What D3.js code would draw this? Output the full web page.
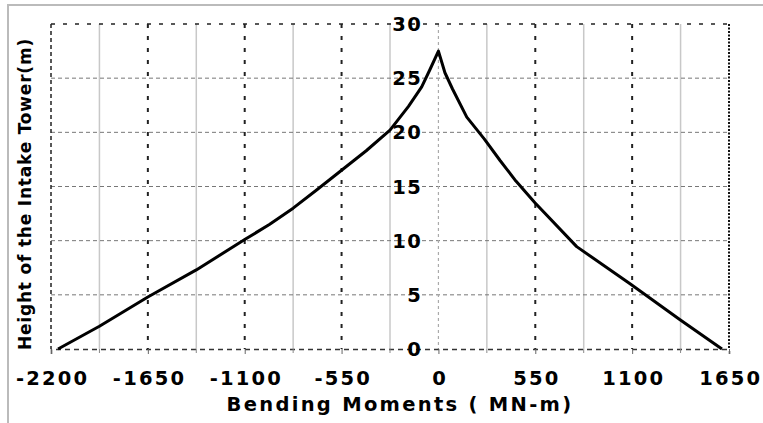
<!DOCTYPE html>
<html>
<head>
<meta charset="utf-8">
<script src="https://cdn.jsdelivr.net/npm/d3@7"></script>
<style>
  body { margin: 0; background: #fff; }
  text { font-family: "DejaVu Sans", Verdana, sans-serif; font-weight: bold; fill: #000; }
</style>
</head>
<body>
<svg width="763" height="423"></svg>
<script>
// moment (MN-m), height (m)
const leftMoments  = [-2160, -1925, -1650, -1375, -1100, -960, -825, -690, -550, -410, -275, -170, -95, -48, 0];
const leftHeights  = [0, 2.1, 4.8, 7.3, 10.1, 11.5, 13.0, 14.7, 16.5, 18.3, 20.2, 22.4, 24.2, 25.8, 27.5];
const rightMoments = [0, 37, 80, 161, 260, 350, 440, 548, 785, 1090, 1372, 1610];
const rightHeights = [27.5, 25.5, 24.0, 21.4, 19.4, 17.4, 15.5, 13.5, 9.45, 6.0, 2.7, 0];

const xTicks = [-2200, -1650, -1100, -550, 0, 550, 1100, 1650];
const xMinor = [-1925, -1375, -825, -275, 275, 825, 1375];
const yTicks = [0, 5, 10, 15, 20, 25, 30];

const margin = {top: 24, right: 34, bottom: 74, left: 51};
const svg = d3.select("svg"),
    width = +svg.attr("width") - margin.left - margin.right,
    height = +svg.attr("height") - margin.top - margin.bottom;

// outer frame (top and left only)
svg.append("path")
    .attr("d", "M8,423 V5 H763")
    .attr("fill", "none")
    .attr("stroke", "#bbb")
    .attr("stroke-width", 2);

const g = svg.append("g").attr("transform", `translate(${margin.left},${margin.top})`);

const x = d3.scaleLinear().domain([-2200, 1650]).range([0, width]);
const y = d3.scaleLinear().domain([0, 30]).range([height, 0]);

// minor vertical grid
g.selectAll(".minor").data(xMinor).enter().append("line")
    .attr("x1", d => x(d)).attr("x2", d => x(d))
    .attr("y1", 0).attr("y2", height)
    .attr("stroke", "#c8c8c8").attr("stroke-width", 1.5);

// horizontal grid
g.selectAll(".hgrid").data(yTicks.filter(d => d > 0 && d < 30)).enter().append("line")
    .attr("x1", 0).attr("x2", width)
    .attr("y1", d => y(d)).attr("y2", d => y(d))
    .attr("stroke", "#777").attr("stroke-width", 1)
    .attr("stroke-dasharray", "4,3");

// zero line
g.append("line")
    .attr("x1", x(0)).attr("x2", x(0))
    .attr("y1", 0).attr("y2", height)
    .attr("stroke", "#aaa").attr("stroke-width", 1.2)
    .attr("stroke-dasharray", "3,3");

// major vertical grid
g.selectAll(".major").data(xTicks.filter(d => d !== 0 && d !== -2200 && d !== 1650)).enter().append("line")
    .attr("x1", d => x(d)).attr("x2", d => x(d))
    .attr("y1", 0).attr("y2", height)
    .attr("stroke", "#222").attr("stroke-width", 2)
    .attr("stroke-dasharray", "4,8");

// plot edges
g.append("line").attr("x1", 0).attr("x2", width).attr("y1", 0).attr("y2", 0)
    .attr("stroke", "#222").attr("stroke-width", 1.6).attr("stroke-dasharray", "4,8");
g.append("line").attr("x1", 0).attr("x2", 0).attr("y1", 0).attr("y2", height)
    .attr("stroke", "#222").attr("stroke-width", 1.5).attr("stroke-dasharray", "4,3");
g.append("line").attr("x1", width).attr("x2", width).attr("y1", 0).attr("y2", height)
    .attr("stroke", "#111").attr("stroke-width", 2).attr("stroke-dasharray", "2,1.5");

// x axis
const xAxis = g.append("g")
    .attr("transform", `translate(0,${height})`)
    .call(d3.axisBottom(x).tickValues(xTicks).tickSize(5).tickFormat(d => String(d)));
xAxis.select(".domain").attr("stroke", "#333").attr("stroke-width", 1.5).attr("stroke-dasharray", "5,4");
xAxis.selectAll(".tick line").attr("stroke", "#666");
xAxis.selectAll("text")
    .attr("dy", null).attr("y", 36).attr("dx", "1.2px")
    .style("font-size", "19.5px").style("letter-spacing", "2.2px");
g.append("g").attr("transform", `translate(0,${height})`)
    .selectAll("line").data(xMinor).enter().append("line")
    .attr("x1", d => x(d)).attr("x2", d => x(d))
    .attr("y1", 0).attr("y2", 4).attr("stroke", "#888");

// y labels at zero line
g.selectAll(".ylab").data(yTicks).enter().append("text")
    .attr("x", x(0) - 16)
    .attr("y", d => y(d) + 7)
    .attr("text-anchor", "end")
    .style("font-size", "19.5px").style("letter-spacing", "1.5px")
    .text(d => d);

// curve
const line = d3.line().x(d => x(d[0])).y(d => y(d[1]));
const pts = leftMoments.map((m, i) => [m, leftHeights[i]])
    .concat(rightMoments.slice(1).map((m, i) => [m, rightHeights[i + 1]]));
g.append("path")
    .datum(pts)
    .attr("fill", "none")
    .attr("stroke", "#000")
    .attr("stroke-width", 3)
    .attr("stroke-linejoin", "round")
    .attr("d", line);

// titles
svg.append("text")
    .attr("x", 400).attr("y", 411)
    .attr("text-anchor", "middle")
    .style("font-size", "19.5px").style("letter-spacing", "2.3px")
    .text("Bending Moments ( MN-m)");

svg.append("text")
    .attr("transform", "translate(31,194) rotate(-90)")
    .attr("text-anchor", "middle")
    .style("font-size", "17px").style("letter-spacing", "0.8px")
    .text("Height of the Intake Tower(m)");
</script>
</body>
</html>
